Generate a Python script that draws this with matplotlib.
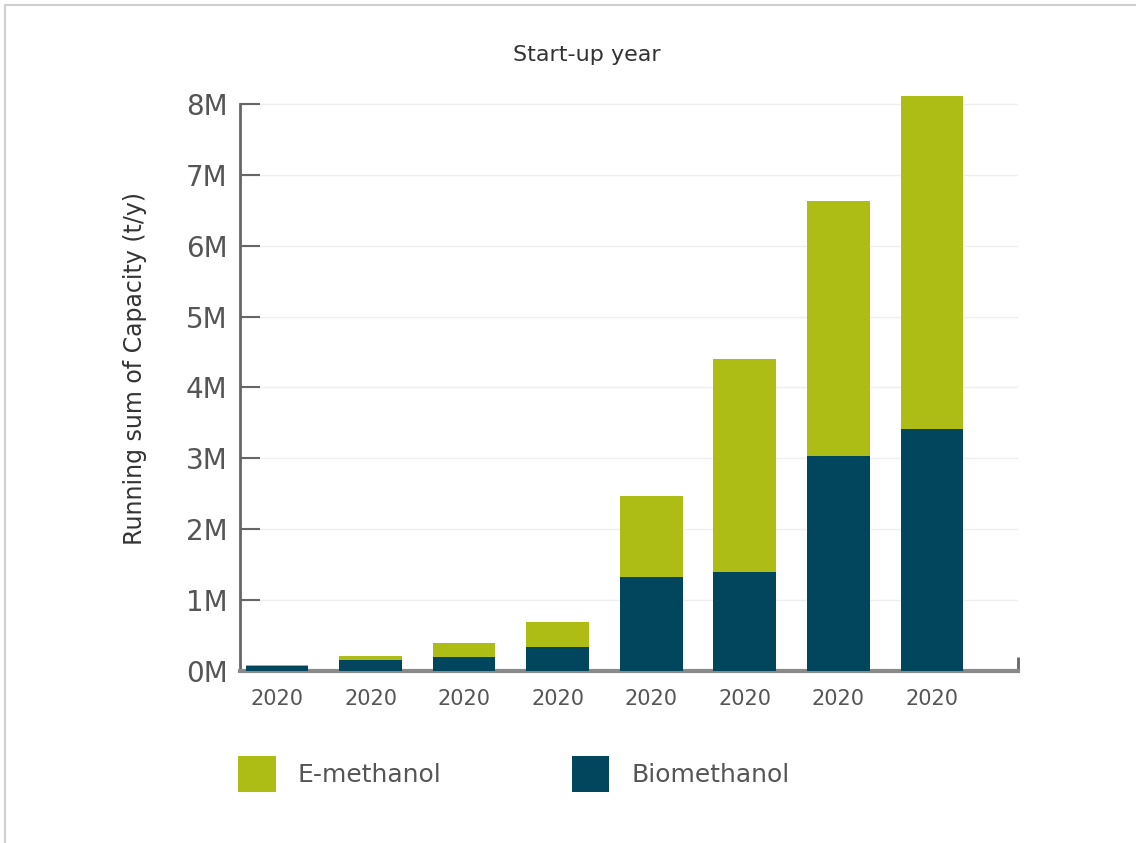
import matplotlib
matplotlib.use("Agg")
import matplotlib.pyplot as plt
import numpy as np
from matplotlib.lines import Line2D

# running sum of capacity per start-up year, in million t/y
years = ["2020", "2020", "2020", "2020", "2020", "2020", "2020", "2020"]
biomethanol = [0.065, 0.155, 0.20, 0.34, 1.33, 1.40, 3.03, 3.41]
e_methanol = [0.02, 0.055, 0.195, 0.35, 1.14, 3.00, 3.60, 4.70]

y_ticks = [0, 1, 2, 3, 4, 5, 6, 7, 8]
y_tick_labels = ["0M", "1M", "2M", "3M", "4M", "5M", "6M", "7M", "8M"]

green = "#AEBD15"
navy = "#02465D"
grey_text = "#555555"

W, H = 1136, 843
fig = plt.figure(figsize=(W / 100, H / 100), dpi=100)

# axes box in pixels: left 240, right 1018, bottom 671, top ~90
ax = fig.add_axes([240 / W, 1 - 671 / H, (1018 - 240) / W, (671 - 89.8) / H])

x = np.arange(len(years))
bio = np.array(biomethanol) * 1e6
emeth = np.array(e_methanol) * 1e6

ax.bar(x, bio, width=0.67, color=navy, label="Biomethanol", zorder=3)
ax.bar(x, emeth, width=0.67, bottom=bio, color=green, label="E-methanol", zorder=3)

ax.set_xlim(-0.395, 7.92)
ax.set_ylim(0, 8.2e6)

ax.set_yticks([v * 1e6 for v in y_ticks])
ax.set_yticklabels(y_tick_labels)
ax.set_xticks(x)
ax.set_xticklabels(years)

ax.tick_params(axis="y", direction="in", length=14.5, width=1.5, color="#666666",
               labelsize=20, labelcolor=grey_text, pad=9)
ax.tick_params(axis="x", length=0, labelsize=15, labelcolor=grey_text, pad=13)

# small tick at the right end of the x axis
ax.set_xticks([7.92], minor=True)
ax.tick_params(axis="x", which="minor", direction="in", length=10, width=2, color="#666666")

ax.yaxis.grid(True, color="#efefef", linewidth=1, zorder=0)
ax.set_axisbelow(True)

for s in ["top", "right"]:
    ax.spines[s].set_visible(False)
ax.spines["left"].set_color("#666666")
ax.spines["left"].set_linewidth(2)
ax.spines["left"].set_bounds(0, 8e6)
ax.spines["bottom"].set_color("#8a8a8a")
ax.spines["bottom"].set_linewidth(3)

ax.set_ylabel("Running sum of Capacity (t/y)", fontsize=17, color="#333333")
ax.yaxis.set_label_coords(-0.12, 0.52)

fig.text(587 / W, 1 - 55 / H, "Start-up year", ha="center", va="center",
         fontsize=16, color="#333333")

handles, labels = ax.get_legend_handles_labels()
leg = fig.legend(handles[::-1], labels[::-1], loc="center left",
                 bbox_to_anchor=(238 / W, 1 - 774 / H), ncol=2, frameon=False,
                 fontsize=18, handlelength=1.5, handleheight=1.86,
                 handletextpad=0.9, columnspacing=5.2, borderpad=0, borderaxespad=0)
for t in leg.get_texts():
    t.set_color(grey_text)

# light frame on the left and top edges
fig.add_artist(Line2D([5 / W, 5 / W], [0, 1 - 5 / H], color="#d0d0d0", linewidth=1.5,
                      transform=fig.transFigure))
fig.add_artist(Line2D([5 / W, 1], [1 - 5 / H, 1 - 5 / H], color="#d0d0d0", linewidth=1.5,
                      transform=fig.transFigure))

fig.savefig("out.png", dpi=100)
